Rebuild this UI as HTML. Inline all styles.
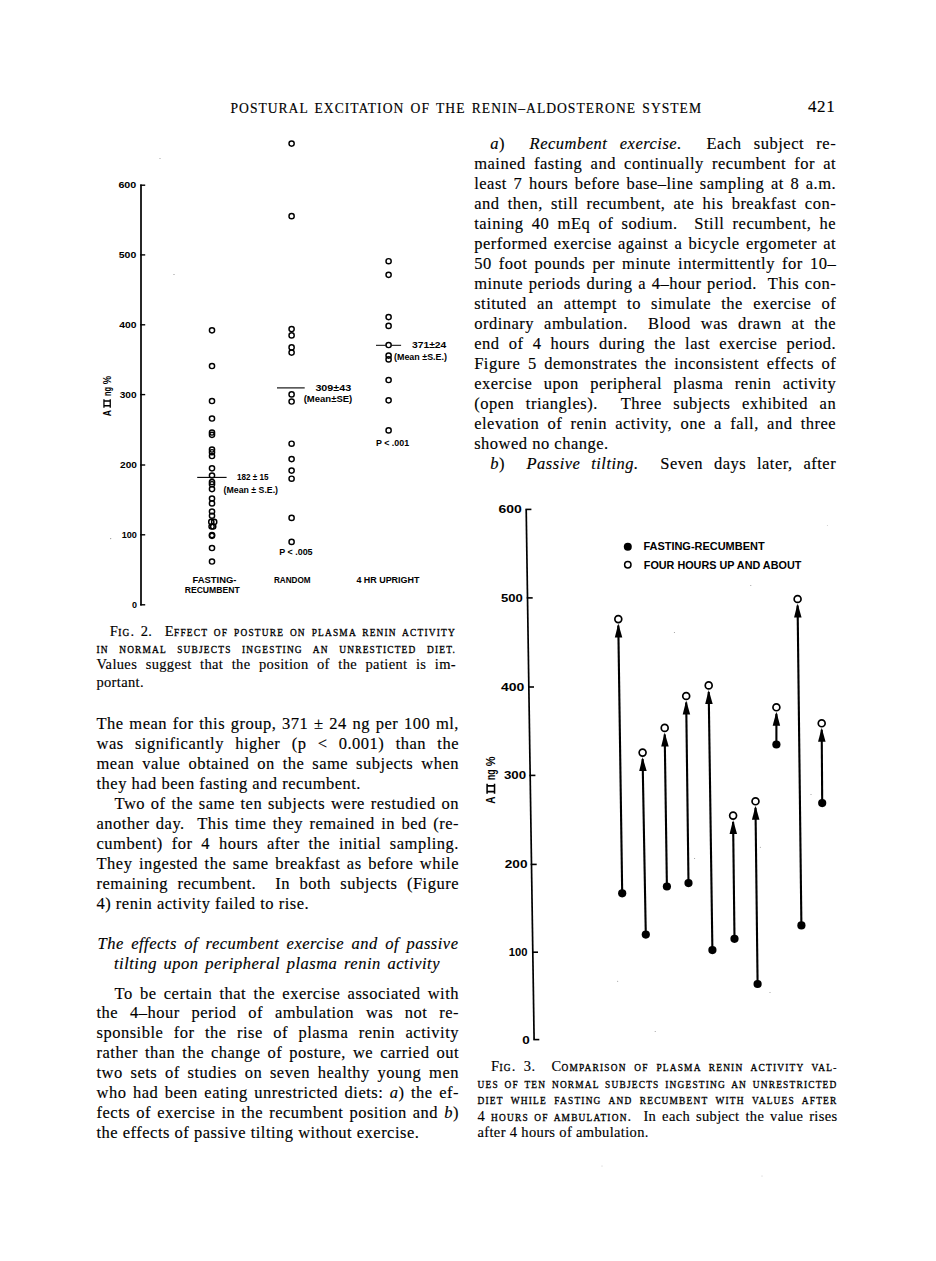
<!DOCTYPE html>
<html><head><meta charset="utf-8"><style>
html,body{margin:0;padding:0;background:#fff;}
body{width:936px;height:1261px;position:relative;overflow:hidden;color:#000;}
.l{-webkit-text-stroke:0.15px #000;}
.l{position:absolute;white-space:nowrap;font-family:'Liberation Serif', serif;}
.j{text-align:justify;text-align-last:justify;white-space:normal;}
.b{font-size:16.5px;line-height:20px;height:20px;letter-spacing:0.5px;}
.i{font-style:italic;}
.sc{text-transform:uppercase;font-size:9.4px;letter-spacing:1.2px;-webkit-text-stroke:0.3px #000;}
.c{font-size:14.5px;line-height:16px;height:16px;letter-spacing:0.35px;}
svg{position:absolute;left:0;top:0;}

.hd{font-size:13.6px;line-height:14px;height:14px;letter-spacing:1px;}
.pn{font-size:17px;line-height:14px;height:14px;letter-spacing:0.6px;}
</style></head>
<body>
<div class="l hd j" style="left:230.5px;top:102.20px;width:471.5px;">POSTURAL EXCITATION OF THE RENIN–ALDOSTERONE SYSTEM</div><div class="l pn" style="left:808px;top:100.00px;">421</div><div class="l b j" style="left:490.2px;top:133.50px;width:346px;"><i>a</i>)&nbsp; <i>Recumbent exercise.</i>&nbsp; Each subject re-</div><div class="l b j" style="left:474.2px;top:153.54px;width:362px;">mained fasting and continually recumbent for at</div><div class="l b j" style="left:474.2px;top:173.58px;width:362px;">least 7 hours before base–line sampling at 8 a.m.</div><div class="l b j" style="left:474.2px;top:193.62px;width:362px;">and then, still recumbent, ate his breakfast con-</div><div class="l b j" style="left:474.2px;top:213.66px;width:362px;">taining 40 mEq of sodium.&nbsp; Still recumbent, he</div><div class="l b j" style="left:474.2px;top:233.70px;width:362px;">performed exercise against a bicycle ergometer at</div><div class="l b j" style="left:474.2px;top:253.74px;width:362px;">50 foot pounds per minute intermittently for 10–</div><div class="l b j" style="left:474.2px;top:273.78px;width:362px;">minute periods during a 4–hour period.&nbsp; This con-</div><div class="l b j" style="left:474.2px;top:293.82px;width:362px;">stituted an attempt to simulate the exercise of</div><div class="l b j" style="left:474.2px;top:313.86px;width:362px;">ordinary ambulation.&nbsp; Blood was drawn at the</div><div class="l b j" style="left:474.2px;top:333.90px;width:362px;">end of 4 hours during the last exercise period.</div><div class="l b j" style="left:474.2px;top:353.94px;width:362px;">Figure 5 demonstrates the inconsistent effects of</div><div class="l b j" style="left:474.2px;top:373.98px;width:362px;">exercise upon peripheral plasma renin activity</div><div class="l b j" style="left:474.2px;top:394.02px;width:362px;">(open triangles).&nbsp; Three subjects exhibited an</div><div class="l b j" style="left:474.2px;top:414.06px;width:362px;">elevation of renin activity, one a fall, and three</div><div class="l b" style="left:474.2px;top:434.10px;">showed no change.</div><div class="l b j" style="left:490.2px;top:454.14px;width:346px;"><i>b</i>)&nbsp; <i>Passive tilting.</i>&nbsp; Seven days later, after</div><div class="l b j" style="left:96.5px;top:713.60px;width:362.5px;">The mean for this group, 371 ± 24 ng per 100 ml,</div><div class="l b j" style="left:96.5px;top:733.65px;width:362.5px;">was significantly higher (p &lt; 0.001) than the</div><div class="l b j" style="left:96.5px;top:753.70px;width:362.5px;">mean value obtained on the same subjects when</div><div class="l b" style="left:96.5px;top:773.75px;">they had been fasting and recumbent.</div><div class="l b j" style="left:114.5px;top:793.80px;width:344.5px;">Two of the same ten subjects were restudied on</div><div class="l b j" style="left:96.5px;top:813.85px;width:362.5px;">another day.&nbsp; This time they remained in bed (re-</div><div class="l b j" style="left:96.5px;top:833.90px;width:362.5px;">cumbent) for 4 hours after the initial sampling.</div><div class="l b j" style="left:96.5px;top:853.95px;width:362.5px;">They ingested the same breakfast as before while</div><div class="l b j" style="left:96.5px;top:874.00px;width:362.5px;">remaining recumbent.&nbsp; In both subjects (Figure</div><div class="l b" style="left:96.5px;top:894.05px;">4) renin activity failed to rise.</div><div class="l b i j" style="left:97.5px;top:934.10px;width:361px;">The effects of recumbent exercise and of passive</div><div class="l b i j" style="left:114px;top:953.60px;width:326px;">tilting upon peripheral plasma renin activity</div><div class="l b j" style="left:114.5px;top:983.50px;width:344.5px;">To be certain that the exercise associated with</div><div class="l b j" style="left:96.5px;top:1003.36px;width:362.5px;">the 4–hour period of ambulation was not re-</div><div class="l b j" style="left:96.5px;top:1023.22px;width:362.5px;">sponsible for the rise of plasma renin&nbsp;activity</div><div class="l b j" style="left:96.5px;top:1043.08px;width:362.5px;">rather than the change of posture, we carried out</div><div class="l b j" style="left:96.5px;top:1062.94px;width:362.5px;">two sets of studies on seven healthy young men</div><div class="l b j" style="left:96.5px;top:1082.80px;width:362.5px;">who had been eating unrestricted diets: <i>a</i>) the ef-</div><div class="l b j" style="left:96.5px;top:1102.66px;width:362.5px;">fects of exercise in the recumbent position and <i>b</i>)</div><div class="l b" style="left:96.5px;top:1122.52px;">the effects of passive tilting without exercise.</div><div class="l c j" style="left:109.80000000000001px;top:623.10px;width:346.20000000000005px;">F<span class="sc">ig</span>. 2.&nbsp; E<span class="sc">ffect of posture on plasma renin activity</span></div><div class="l c j" style="left:96.4px;top:639.50px;width:359.6px;"><span class="sc">in normal subjects ingesting an unresticted diet.</span></div><div class="l c j" style="left:96.4px;top:656.40px;width:359.6px;">Values suggest that the position of the patient is im-</div><div class="l c" style="left:96.4px;top:673.50px;">portant.</div><div class="l c j" style="left:491.0px;top:1058.30px;width:346.5px;">F<span class="sc">ig</span>. 3.&nbsp; C<span class="sc">omparison of plasma renin activity val-</span></div><div class="l c j" style="left:477.5px;top:1074.50px;width:360px;"><span class="sc">ues of ten normal subjects ingesting an unrestricted</span></div><div class="l c j" style="left:477.5px;top:1090.90px;width:360px;"><span class="sc">diet while fasting and recumbent with values after</span></div><div class="l c j" style="left:477.5px;top:1107.70px;width:360px;">4 <span class="sc">hours of ambulation</span>.&nbsp; In each subject the value rises</div><div class="l c" style="left:477.5px;top:1123.70px;">after 4 hours of ambulation.</div><svg width="936" height="1261" viewBox="0 0 936 1261"><line x1="141.00" y1="184.50" x2="141.00" y2="605.50" stroke="#000" stroke-width="1.7"/><line x1="140.20" y1="185.20" x2="145.20" y2="185.20" stroke="#000" stroke-width="1.4"/><text x="118.40" y="188.40" font-family="'Liberation Sans', sans-serif" font-size="9" font-weight="bold" textLength="17.90" lengthAdjust="spacingAndGlyphs">600</text><line x1="140.20" y1="254.90" x2="145.20" y2="254.90" stroke="#000" stroke-width="1.4"/><text x="118.80" y="258.10" font-family="'Liberation Sans', sans-serif" font-size="9" font-weight="bold" textLength="17.50" lengthAdjust="spacingAndGlyphs">500</text><line x1="140.20" y1="324.80" x2="145.20" y2="324.80" stroke="#000" stroke-width="1.4"/><text x="119.30" y="328.00" font-family="'Liberation Sans', sans-serif" font-size="9" font-weight="bold" textLength="17.30" lengthAdjust="spacingAndGlyphs">400</text><line x1="140.20" y1="394.60" x2="145.20" y2="394.60" stroke="#000" stroke-width="1.4"/><text x="119.70" y="397.80" font-family="'Liberation Sans', sans-serif" font-size="9" font-weight="bold" textLength="16.90" lengthAdjust="spacingAndGlyphs">300</text><line x1="140.20" y1="465.00" x2="145.20" y2="465.00" stroke="#000" stroke-width="1.4"/><text x="120.00" y="468.20" font-family="'Liberation Sans', sans-serif" font-size="9" font-weight="bold" textLength="16.90" lengthAdjust="spacingAndGlyphs">200</text><line x1="140.20" y1="534.80" x2="145.20" y2="534.80" stroke="#000" stroke-width="1.4"/><text x="121.70" y="538.00" font-family="'Liberation Sans', sans-serif" font-size="9" font-weight="bold" textLength="15.20" lengthAdjust="spacingAndGlyphs">100</text><line x1="140.20" y1="604.80" x2="145.20" y2="604.80" stroke="#000" stroke-width="1.4"/><text x="132.00" y="608.00" font-family="'Liberation Sans', sans-serif" font-size="9" font-weight="bold" textLength="5.00" lengthAdjust="spacingAndGlyphs">0</text><g transform="translate(110.9,416.2) rotate(-90) scale(1.0)"><text x="0" y="0" font-family="'Liberation Sans', sans-serif" font-size="10.6" font-weight="bold" textLength="6.1" lengthAdjust="spacingAndGlyphs">A</text><path d="M8.5,-7.6H17V-6.3H15.9V-1.3H17V0H8.5V-1.3H9.6V-6.3H8.5Z M11.1,-6.3V-1.3H14.4V-6.3Z" fill="#000" fill-rule="evenodd"/><text x="20.2" y="0" font-family="'Liberation Sans', sans-serif" font-size="10.6" font-weight="bold" textLength="9" lengthAdjust="spacingAndGlyphs">ng</text><text x="31.9" y="0" font-family="'Liberation Sans', sans-serif" font-size="10.6" font-weight="bold" textLength="8.3" lengthAdjust="spacingAndGlyphs">%</text></g><circle cx="212.00" cy="330.30" r="2.6" stroke="#000" stroke-width="1.45" fill="none"/><circle cx="212.00" cy="366.00" r="2.6" stroke="#000" stroke-width="1.45" fill="none"/><circle cx="212.00" cy="401.00" r="2.6" stroke="#000" stroke-width="1.45" fill="none"/><circle cx="212.00" cy="418.50" r="2.6" stroke="#000" stroke-width="1.45" fill="none"/><circle cx="212.00" cy="432.50" r="2.6" stroke="#000" stroke-width="1.45" fill="none"/><circle cx="212.00" cy="434.80" r="2.6" stroke="#000" stroke-width="1.45" fill="none"/><circle cx="212.00" cy="449.50" r="2.6" stroke="#000" stroke-width="1.45" fill="none"/><circle cx="212.00" cy="452.20" r="2.6" stroke="#000" stroke-width="1.45" fill="none"/><circle cx="212.00" cy="456.00" r="2.6" stroke="#000" stroke-width="1.45" fill="none"/><circle cx="212.00" cy="468.30" r="2.6" stroke="#000" stroke-width="1.45" fill="none"/><circle cx="212.00" cy="475.50" r="2.6" stroke="#000" stroke-width="1.45" fill="none"/><circle cx="212.00" cy="482.00" r="2.6" stroke="#000" stroke-width="1.45" fill="none"/><circle cx="212.00" cy="484.20" r="2.6" stroke="#000" stroke-width="1.45" fill="none"/><circle cx="212.00" cy="489.10" r="2.6" stroke="#000" stroke-width="1.45" fill="none"/><circle cx="212.00" cy="498.50" r="2.6" stroke="#000" stroke-width="1.45" fill="none"/><circle cx="212.00" cy="503.40" r="2.6" stroke="#000" stroke-width="1.45" fill="none"/><circle cx="212.00" cy="511.50" r="2.6" stroke="#000" stroke-width="1.45" fill="none"/><circle cx="212.00" cy="515.70" r="2.6" stroke="#000" stroke-width="1.45" fill="none"/><circle cx="212.00" cy="535.00" r="2.6" stroke="#000" stroke-width="1.45" fill="none"/><circle cx="212.00" cy="535.80" r="2.6" stroke="#000" stroke-width="1.45" fill="none"/><circle cx="212.00" cy="548.00" r="2.6" stroke="#000" stroke-width="1.45" fill="none"/><circle cx="212.00" cy="561.50" r="2.6" stroke="#000" stroke-width="1.45" fill="none"/><circle cx="211.30" cy="521.90" r="2.6" stroke="#000" stroke-width="1.45" fill="none"/><circle cx="214.20" cy="521.90" r="2.6" stroke="#000" stroke-width="1.45" fill="none"/><circle cx="211.60" cy="526.50" r="2.6" stroke="#000" stroke-width="1.45" fill="none"/><circle cx="213.20" cy="526.50" r="2.6" stroke="#000" stroke-width="1.45" fill="none"/><circle cx="291.60" cy="143.60" r="2.6" stroke="#000" stroke-width="1.45" fill="none"/><circle cx="291.60" cy="216.20" r="2.6" stroke="#000" stroke-width="1.45" fill="none"/><circle cx="291.60" cy="329.00" r="2.6" stroke="#000" stroke-width="1.45" fill="none"/><circle cx="291.60" cy="335.40" r="2.6" stroke="#000" stroke-width="1.45" fill="none"/><circle cx="291.60" cy="347.40" r="2.6" stroke="#000" stroke-width="1.45" fill="none"/><circle cx="291.60" cy="352.60" r="2.6" stroke="#000" stroke-width="1.45" fill="none"/><circle cx="291.60" cy="394.40" r="2.6" stroke="#000" stroke-width="1.45" fill="none"/><circle cx="291.60" cy="401.50" r="2.6" stroke="#000" stroke-width="1.45" fill="none"/><circle cx="291.60" cy="443.70" r="2.6" stroke="#000" stroke-width="1.45" fill="none"/><circle cx="291.60" cy="459.10" r="2.6" stroke="#000" stroke-width="1.45" fill="none"/><circle cx="291.60" cy="470.60" r="2.6" stroke="#000" stroke-width="1.45" fill="none"/><circle cx="291.60" cy="478.70" r="2.6" stroke="#000" stroke-width="1.45" fill="none"/><circle cx="291.60" cy="517.90" r="2.6" stroke="#000" stroke-width="1.45" fill="none"/><circle cx="291.60" cy="541.90" r="2.6" stroke="#000" stroke-width="1.45" fill="none"/><circle cx="388.60" cy="261.20" r="2.6" stroke="#000" stroke-width="1.45" fill="none"/><circle cx="388.60" cy="274.80" r="2.6" stroke="#000" stroke-width="1.45" fill="none"/><circle cx="388.60" cy="317.10" r="2.6" stroke="#000" stroke-width="1.45" fill="none"/><circle cx="388.60" cy="325.90" r="2.6" stroke="#000" stroke-width="1.45" fill="none"/><circle cx="388.60" cy="345.00" r="2.6" stroke="#000" stroke-width="1.45" fill="none"/><circle cx="388.60" cy="355.60" r="2.6" stroke="#000" stroke-width="1.45" fill="none"/><circle cx="388.60" cy="359.40" r="2.6" stroke="#000" stroke-width="1.45" fill="none"/><circle cx="388.60" cy="380.00" r="2.6" stroke="#000" stroke-width="1.45" fill="none"/><circle cx="388.60" cy="400.30" r="2.6" stroke="#000" stroke-width="1.45" fill="none"/><circle cx="388.60" cy="430.40" r="2.6" stroke="#000" stroke-width="1.45" fill="none"/><line x1="197.20" y1="477.40" x2="226.60" y2="477.40" stroke="#000" stroke-width="1.1"/><line x1="277.00" y1="387.90" x2="304.70" y2="387.90" stroke="#000" stroke-width="1.1"/><line x1="376.00" y1="345.30" x2="385.80" y2="345.30" stroke="#000" stroke-width="1.0"/><line x1="391.40" y1="345.30" x2="401.10" y2="345.30" stroke="#000" stroke-width="1.0"/><text x="237.00" y="480.40" font-family="'Liberation Sans', sans-serif" font-size="8.6" font-weight="bold" textLength="31.50" lengthAdjust="spacingAndGlyphs">182 ± 15</text><text x="223.60" y="493.00" font-family="'Liberation Sans', sans-serif" font-size="8.6" font-weight="bold" textLength="54.40" lengthAdjust="spacingAndGlyphs">(Mean ± S.E.)</text><text x="315.40" y="390.80" font-family="'Liberation Sans', sans-serif" font-size="8.6" font-weight="bold" textLength="35.80" lengthAdjust="spacingAndGlyphs">309±43</text><text x="303.70" y="402.00" font-family="'Liberation Sans', sans-serif" font-size="8.6" font-weight="bold" textLength="48.60" lengthAdjust="spacingAndGlyphs">(Mean±SE)</text><text x="412.00" y="348.30" font-family="'Liberation Sans', sans-serif" font-size="8.6" font-weight="bold" textLength="34.30" lengthAdjust="spacingAndGlyphs">371±24</text><text x="394.00" y="360.30" font-family="'Liberation Sans', sans-serif" font-size="8.6" font-weight="bold" textLength="53.00" lengthAdjust="spacingAndGlyphs">(Mean ±S.E.)</text><text x="279.20" y="554.70" font-family="'Liberation Sans', sans-serif" font-size="8.6" font-weight="bold" textLength="33.40" lengthAdjust="spacingAndGlyphs">P &lt; .005</text><text x="376.00" y="445.90" font-family="'Liberation Sans', sans-serif" font-size="8.6" font-weight="bold" textLength="33.10" lengthAdjust="spacingAndGlyphs">P &lt; .001</text><text x="192.50" y="582.80" font-family="'Liberation Sans', sans-serif" font-size="8.6" font-weight="bold" textLength="43.90" lengthAdjust="spacingAndGlyphs">FASTING-</text><text x="184.70" y="593.30" font-family="'Liberation Sans', sans-serif" font-size="8.6" font-weight="bold" textLength="55.00" lengthAdjust="spacingAndGlyphs">RECUMBENT</text><text x="273.90" y="582.50" font-family="'Liberation Sans', sans-serif" font-size="8.6" font-weight="bold" textLength="36.70" lengthAdjust="spacingAndGlyphs">RANDOM</text><text x="356.40" y="582.80" font-family="'Liberation Sans', sans-serif" font-size="8.6" font-weight="bold" textLength="63.00" lengthAdjust="spacingAndGlyphs">4 HR UPRIGHT</text><line x1="526.20" y1="509.40" x2="534.10" y2="1039.60" stroke="#000" stroke-width="1.7"/><line x1="525.40" y1="509.40" x2="531.40" y2="509.40" stroke="#000" stroke-width="1.6"/><text x="498.40" y="513.30" font-family="'Liberation Sans', sans-serif" font-size="10.8" font-weight="bold" textLength="23.30" lengthAdjust="spacingAndGlyphs">600</text><line x1="526.70" y1="597.90" x2="532.70" y2="597.90" stroke="#000" stroke-width="1.6"/><text x="500.90" y="601.80" font-family="'Liberation Sans', sans-serif" font-size="10.8" font-weight="bold" textLength="21.80" lengthAdjust="spacingAndGlyphs">500</text><line x1="528.00" y1="687.00" x2="534.00" y2="687.00" stroke="#000" stroke-width="1.6"/><text x="501.10" y="690.90" font-family="'Liberation Sans', sans-serif" font-size="10.8" font-weight="bold" textLength="23.30" lengthAdjust="spacingAndGlyphs">400</text><line x1="529.40" y1="775.40" x2="535.40" y2="775.40" stroke="#000" stroke-width="1.6"/><text x="503.90" y="779.30" font-family="'Liberation Sans', sans-serif" font-size="10.8" font-weight="bold" textLength="22.20" lengthAdjust="spacingAndGlyphs">300</text><line x1="530.70" y1="864.40" x2="536.70" y2="864.40" stroke="#000" stroke-width="1.6"/><text x="504.80" y="868.30" font-family="'Liberation Sans', sans-serif" font-size="10.8" font-weight="bold" textLength="22.70" lengthAdjust="spacingAndGlyphs">200</text><line x1="532.00" y1="952.20" x2="538.00" y2="952.20" stroke="#000" stroke-width="1.6"/><text x="508.80" y="956.10" font-family="'Liberation Sans', sans-serif" font-size="10.8" font-weight="bold" textLength="18.70" lengthAdjust="spacingAndGlyphs">100</text><line x1="533.30" y1="1039.60" x2="539.30" y2="1039.60" stroke="#000" stroke-width="1.6"/><text x="522.30" y="1043.50" font-family="'Liberation Sans', sans-serif" font-size="10.8" font-weight="bold" textLength="7.50" lengthAdjust="spacingAndGlyphs">0</text><g transform="translate(495.3,803.8) rotate(-90) scale(1.18)"><text x="0" y="0" font-family="'Liberation Sans', sans-serif" font-size="10.6" font-weight="bold" textLength="6.1" lengthAdjust="spacingAndGlyphs">A</text><path d="M8.5,-7.6H17V-6.3H15.9V-1.3H17V0H8.5V-1.3H9.6V-6.3H8.5Z M11.1,-6.3V-1.3H14.4V-6.3Z" fill="#000" fill-rule="evenodd"/><text x="20.2" y="0" font-family="'Liberation Sans', sans-serif" font-size="10.6" font-weight="bold" textLength="9" lengthAdjust="spacingAndGlyphs">ng</text><text x="31.9" y="0" font-family="'Liberation Sans', sans-serif" font-size="10.6" font-weight="bold" textLength="8.3" lengthAdjust="spacingAndGlyphs">%</text></g><circle cx="627.80" cy="546.70" r="4.0" stroke="#000" stroke-width="0" fill="#000"/><circle cx="627.80" cy="564.80" r="3.2" stroke="#000" stroke-width="1.5" fill="#fff"/><text x="643.40" y="550.30" font-family="'Liberation Sans', sans-serif" font-size="11.5" font-weight="bold" textLength="121.20" lengthAdjust="spacingAndGlyphs">FASTING-RECUMBENT</text><text x="643.80" y="568.90" font-family="'Liberation Sans', sans-serif" font-size="11.5" font-weight="bold" textLength="157.50" lengthAdjust="spacingAndGlyphs">FOUR HOURS UP AND ABOUT</text><line x1="622.20" y1="893.30" x2="618.30" y2="625.60" stroke="#000" stroke-width="2.1"/><polygon points="618.30,623.60 614.81,637.60 622.31,637.60" fill="#000"/><circle cx="618.30" cy="619.10" r="3.45" stroke="#000" stroke-width="1.7" fill="#fff"/><circle cx="622.20" cy="893.30" r="4.1" stroke="#000" stroke-width="0" fill="#000"/><line x1="645.80" y1="934.60" x2="642.60" y2="759.10" stroke="#000" stroke-width="2.1"/><polygon points="642.60,757.10 639.18,771.10 646.68,771.10" fill="#000"/><circle cx="642.60" cy="752.60" r="3.45" stroke="#000" stroke-width="1.7" fill="#fff"/><circle cx="645.80" cy="934.60" r="4.1" stroke="#000" stroke-width="0" fill="#000"/><line x1="666.90" y1="886.50" x2="664.70" y2="734.40" stroke="#000" stroke-width="2.1"/><polygon points="664.70,732.40 661.21,746.40 668.71,746.40" fill="#000"/><circle cx="664.70" cy="727.90" r="3.45" stroke="#000" stroke-width="1.7" fill="#fff"/><circle cx="666.90" cy="886.50" r="4.1" stroke="#000" stroke-width="0" fill="#000"/><line x1="688.50" y1="883.10" x2="686.20" y2="702.50" stroke="#000" stroke-width="2.1"/><polygon points="686.20,700.50 682.68,714.50 690.18,714.50" fill="#000"/><circle cx="686.20" cy="696.00" r="3.45" stroke="#000" stroke-width="1.7" fill="#fff"/><circle cx="688.50" cy="883.10" r="4.1" stroke="#000" stroke-width="0" fill="#000"/><line x1="712.40" y1="950.10" x2="708.70" y2="691.90" stroke="#000" stroke-width="2.1"/><polygon points="708.70,689.90 705.21,703.90 712.71,703.90" fill="#000"/><circle cx="708.70" cy="685.40" r="3.45" stroke="#000" stroke-width="1.7" fill="#fff"/><circle cx="712.40" cy="950.10" r="4.1" stroke="#000" stroke-width="0" fill="#000"/><line x1="734.50" y1="938.80" x2="733.10" y2="822.10" stroke="#000" stroke-width="2.1"/><polygon points="733.10,820.10 729.56,834.10 737.06,834.10" fill="#000"/><circle cx="733.10" cy="815.60" r="3.45" stroke="#000" stroke-width="1.7" fill="#fff"/><circle cx="734.50" cy="938.80" r="4.1" stroke="#000" stroke-width="0" fill="#000"/><line x1="757.60" y1="984.00" x2="755.50" y2="807.80" stroke="#000" stroke-width="2.1"/><polygon points="755.50,805.80 751.96,819.80 759.46,819.80" fill="#000"/><circle cx="755.50" cy="801.30" r="3.45" stroke="#000" stroke-width="1.7" fill="#fff"/><circle cx="757.60" cy="984.00" r="4.1" stroke="#000" stroke-width="0" fill="#000"/><line x1="776.40" y1="744.50" x2="776.40" y2="713.80" stroke="#000" stroke-width="2.1"/><polygon points="776.40,711.80 772.65,725.80 780.15,725.80" fill="#000"/><circle cx="776.40" cy="707.30" r="3.45" stroke="#000" stroke-width="1.7" fill="#fff"/><circle cx="776.40" cy="744.50" r="4.1" stroke="#000" stroke-width="0" fill="#000"/><line x1="801.40" y1="925.40" x2="797.60" y2="605.50" stroke="#000" stroke-width="2.1"/><polygon points="797.60,603.50 794.07,617.50 801.57,617.50" fill="#000"/><circle cx="797.60" cy="599.00" r="3.45" stroke="#000" stroke-width="1.7" fill="#fff"/><circle cx="801.40" cy="925.40" r="4.1" stroke="#000" stroke-width="0" fill="#000"/><line x1="822.20" y1="803.10" x2="821.70" y2="729.80" stroke="#000" stroke-width="2.1"/><polygon points="821.70,727.80 818.07,741.80 825.57,741.80" fill="#000"/><circle cx="821.70" cy="723.30" r="3.45" stroke="#000" stroke-width="1.7" fill="#fff"/><circle cx="822.20" cy="803.10" r="4.1" stroke="#000" stroke-width="0" fill="#000"/><circle cx="160" cy="158.4" r="0.5" fill="#888"/><circle cx="174" cy="274.5" r="0.6" fill="#888"/><circle cx="110.7" cy="538.6" r="0.6" fill="#888"/><circle cx="694.6" cy="858.5" r="0.5" fill="#888"/><circle cx="760.3" cy="847.3" r="0.5" fill="#888"/><circle cx="811" cy="794.4" r="0.5" fill="#888"/><circle cx="617.7" cy="981.3" r="0.5" fill="#888"/><circle cx="770" cy="992.5" r="0.5" fill="#888"/><circle cx="655.2" cy="1031.6" r="0.5" fill="#888"/><circle cx="674.4" cy="632.6" r="0.5" fill="#888"/><circle cx="750.8" cy="585.4" r="0.5" fill="#888"/><circle cx="827.3" cy="525.7" r="0.4" fill="#888"/><circle cx="602" cy="1166" r="0.4" fill="#888"/><circle cx="762" cy="1176" r="0.4" fill="#888"/></svg>
</body></html>
